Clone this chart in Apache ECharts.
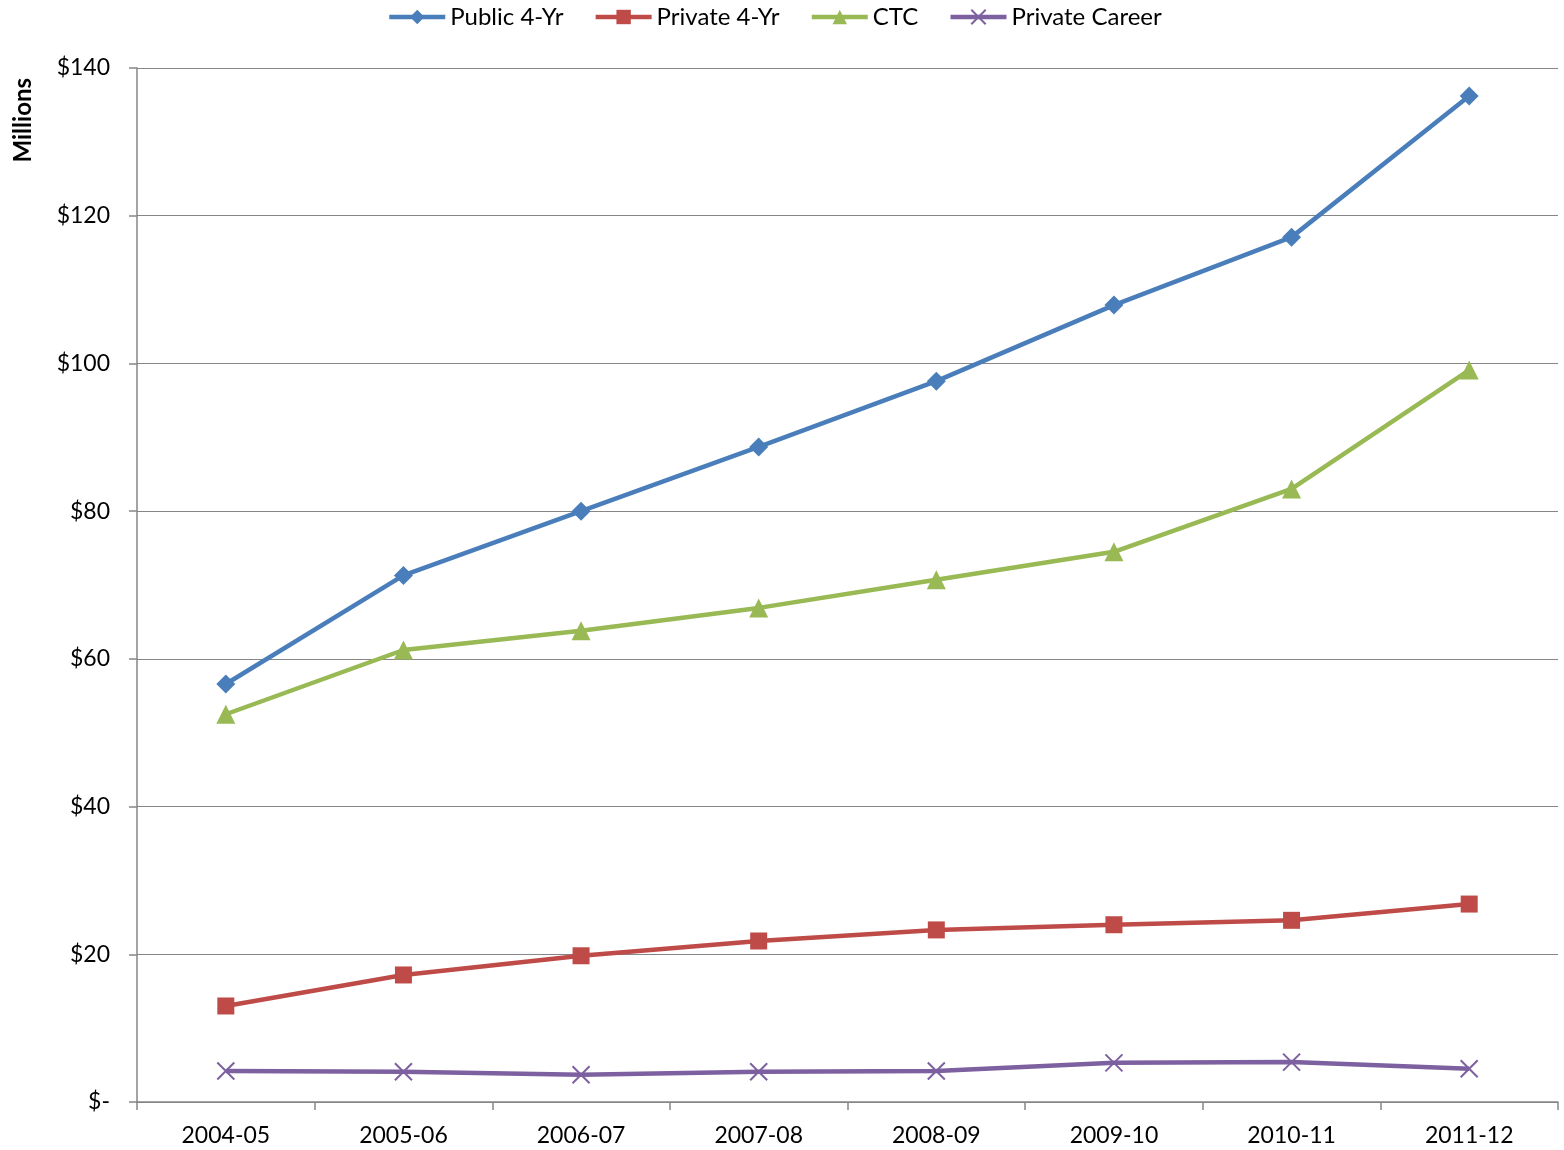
<!DOCTYPE html>
<html>
<head>
<meta charset="utf-8">
<script src="https://cdn.jsdelivr.net/npm/echarts@6/dist/echarts.min.js"></script>
<style>
  html, body { margin: 0; padding: 0; background: #fff; }
  #chart { width: 1564px; height: 1150px; }
</style>
</head>
<body>
<div id="chart"></div>
<script>
// School years on the category axis
const years = ['2004-05', '2005-06', '2006-07', '2007-08', '2008-09', '2009-10', '2010-11', '2011-12'];

// Amounts in millions of dollars, by sector
const public4yr = [56.6, 71.3, 80.0, 88.7, 97.6, 107.9, 117.1, 136.2];
const private4yr = [13.0, 17.2, 19.8, 21.8, 23.3, 24.0, 24.6, 26.8];
const ctc = [52.5, 61.2, 63.8, 66.9, 70.7, 74.5, 83.0, 99.1];
const privateCareer = [4.2, 4.1, 3.7, 4.1, 4.2, 5.3, 5.4, 4.5];

// Value axis ticks
const yTicks = [0, 20, 40, 60, 80, 100, 120, 140];

const FONT = 'Lato';
const crossPath = 'path://M0,0L10,10M10,0L0,10';

function lineSeries(name, data, color, symbol, size, extra) {
  return Object.assign({
    name: name,
    type: 'line',
    data: data,
    symbol: symbol,
    symbolSize: size,
    showAllSymbol: true,
    lineStyle: { color: color, width: 4.5 },
    itemStyle: { color: color },
    emphasis: { disabled: true },
    animation: false
  }, extra || {});
}

const chart = echarts.init(document.getElementById('chart'));
chart.setOption({
  backgroundColor: '#ffffff',
  textStyle: { fontFamily: FONT },
  legend: {
    top: 0,
    left: 382,
    itemWidth: 56,
    itemHeight: 18,
    itemGap: 30,
    lineStyle: { width: 4.5 },
    textStyle: { fontFamily: FONT, fontSize: 24, color: '#000' },
    data: ['Public 4-Yr', 'Private 4-Yr', 'CTC', 'Private Career']
  },
  grid: { left: 137, right: 6, top: 68, bottom: 48, containLabel: false },
  xAxis: {
    type: 'category',
    data: years,
    boundaryGap: true,
    axisLine: { lineStyle: { color: '#868686', width: 1.5 } },
    axisTick: { show: true, length: 8, lineStyle: { color: '#868686', width: 1.5 } },
    axisLabel: { fontFamily: FONT, fontSize: 23, color: '#000', margin: 22 }
  },
  yAxis: {
    type: 'value',
    min: yTicks[0],
    max: yTicks[yTicks.length - 1],
    interval: 20,
    axisLine: { show: true, lineStyle: { color: '#868686', width: 1.5 } },
    axisTick: { show: true, length: 8, lineStyle: { color: '#868686', width: 1.5 } },
    splitLine: { lineStyle: { color: '#868686', width: 1.2 } },
    axisLabel: {
      fontFamily: FONT, fontSize: 23, color: '#000', margin: 27,
      formatter: v => v === 0 ? '$-' : '$' + v
    }
  },
  graphic: [{
    type: 'text',
    left: 11,
    top: 78,
    rotation: Math.PI / 2,
    style: {
      text: 'Millions',
      font: 'bold 24px ' + FONT,
      fill: '#000'
    }
  }],
  series: [
    lineSeries('Public 4-Yr', public4yr, '#4A7EBB', 'diamond', 19),
    lineSeries('Private 4-Yr', private4yr, '#BE4B48', 'rect', 17),
    lineSeries('CTC', ctc, '#98B954', 'triangle', 19),
    lineSeries('Private Career', privateCareer, '#7D60A0', crossPath, 17, {
      itemStyle: { color: 'none', borderColor: '#7D60A0', borderWidth: 2 }
    })
  ]
});
</script>
</body>
</html>
